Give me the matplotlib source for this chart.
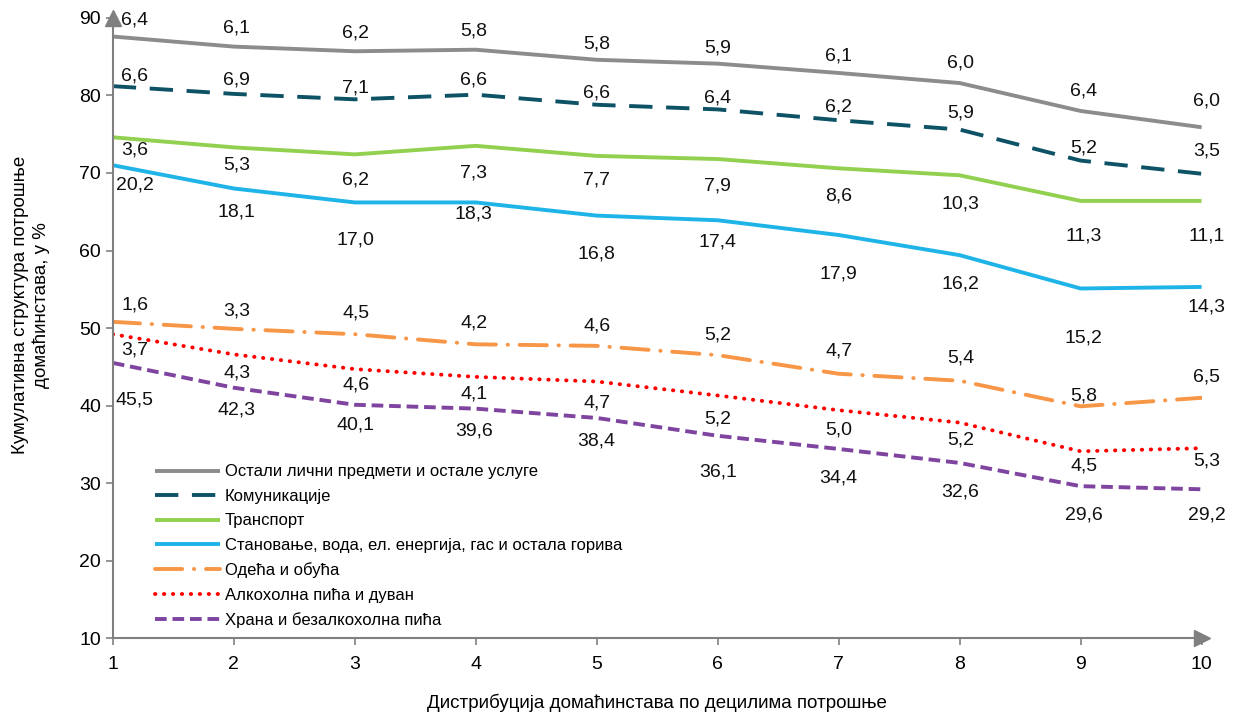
import numpy as np
import matplotlib.pyplot as plt

plt.rcParams['font.family'] = ['Liberation Sans', 'DejaVu Sans']

# deciles
deciles = [1, 2, 3, 4, 5, 6, 7, 8, 9, 10]

# share of each group in consumption, % (labels on the chart)
food = [45.5, 42.3, 40.1, 39.6, 38.4, 36.1, 34.4, 32.6, 29.6, 29.2]
alcohol = [3.7, 4.3, 4.6, 4.1, 4.7, 5.2, 5.0, 5.2, 4.5, 5.3]
clothing = [1.6, 3.3, 4.5, 4.2, 4.6, 5.2, 4.7, 5.4, 5.8, 6.5]
housing = [20.2, 18.1, 17.0, 18.3, 16.8, 17.4, 17.9, 16.2, 15.2, 14.3]
transport = [3.6, 5.3, 6.2, 7.3, 7.7, 7.9, 8.6, 10.3, 11.3, 11.1]
communication = [6.6, 6.9, 7.1, 6.6, 6.6, 6.4, 6.2, 5.9, 5.2, 3.5]
other = [6.4, 6.1, 6.2, 5.8, 5.8, 5.9, 6.1, 6.0, 6.4, 6.0]

names = ['Храна и безалкохолна пића',
         'Алкохолна пића и дуван',
         'Одећа и обућа',
         'Становање, вода, ел. енергија, гас и остала горива',
         'Транспорт',
         'Комуникације',
         'Остали лични предмети и остале услуге']
series = [food, alcohol, clothing, housing, transport, communication, other]

colors = ['#7E44A0', '#FF0000', '#F79646', '#1FB4E8', '#92D050', '#0E5266', '#8C8C8C']
styles = [(0, (3, 1.5)), (0, (0.1, 2.2)), (0, (7, 3, 0.1, 3)), '-', '-', (0, (6, 3.5)), '-']
caps = ['butt', 'round', 'round', 'butt', 'butt', 'butt', 'butt']

# label offsets in pixels (positive = above the line)
label_dy = [
    [-37, -22, -20, -22, -23, -36, -29, -29, -29, -26],
    [-16, -19, -16, -17, -21, -24, -20, -17, -15, -13],
    [17, 18, 21, 21, 20, 20, 23, 23, 10, 21],
    [-20, -24, -38, -12, -38, -22, -39, -29, -50, -20],
    [-13, -18, -26, -27, -24, -27, -28, -29, -35, -35],
    [10, 14, 11, 15, 12, 11, 13, 17, 13, 23],
    [17, 19, 18, 19, 16, 16, 17, 20, 20, 26],
]
label_dx = [22, 3, 1, -2, 0, 0, 0, 1, 3, 5]

fig = plt.figure(figsize=(12.4, 7.17), dpi=100)
ax = fig.add_axes([0.091, 0.110, 0.878, 0.865])

cum = np.cumsum(np.array(series), axis=0)
for i in range(len(series)):
    ax.plot(deciles, cum[i], color=colors[i], linestyle=styles[i], linewidth=2.8,
            label=names[i], solid_capstyle='butt', dash_capstyle=caps[i])
    for j, v in enumerate(series[i]):
        ax.annotate(f'{v:.1f}'.replace('.', ','), (deciles[j], cum[i][j]),
                    textcoords='offset pixels', xytext=(label_dx[j], label_dy[i][j]),
                    ha='center', va='center', fontsize=14, color='#111111')

ax.set_xlim(1, 10)
ax.set_ylim(10, 90)
ax.set_xticks(deciles)
ax.set_yticks(range(10, 91, 10))
ax.tick_params(colors='#808080', labelcolor='black', labelsize=14, length=5, width=1.2)
ax.tick_params(axis='x', pad=8)
for s in ['top', 'right']:
    ax.spines[s].set_visible(False)
for s in ['left', 'bottom']:
    ax.spines[s].set_color('#808080')
    ax.spines[s].set_linewidth(1.5)

# arrow heads on the axes
ax.plot(1, 0, '>', color='#808080', markersize=11, transform=ax.transAxes, clip_on=False)
ax.plot(0, 1, '^', color='#808080', markersize=11, transform=ax.transAxes, clip_on=False)

ax.set_xlabel('Дистрибуција домаћинстава по децилима потрошње', fontsize=13.5)
ax.xaxis.set_label_coords(0.5, -0.089)
ax.set_ylabel('Кумулативна структура потрошње\nдомаћинстава, у %', fontsize=13.5)
ax.yaxis.set_label_coords(-0.058, 0.537)

handles, labels = ax.get_legend_handles_labels()
ax.legend(handles[::-1], labels[::-1], loc='lower left', bbox_to_anchor=(0.025, -0.008),
          frameon=False, fontsize=12, handlelength=3.9, labelspacing=0.57,
          handletextpad=0.3)

fig.savefig('out.png', dpi=100)
